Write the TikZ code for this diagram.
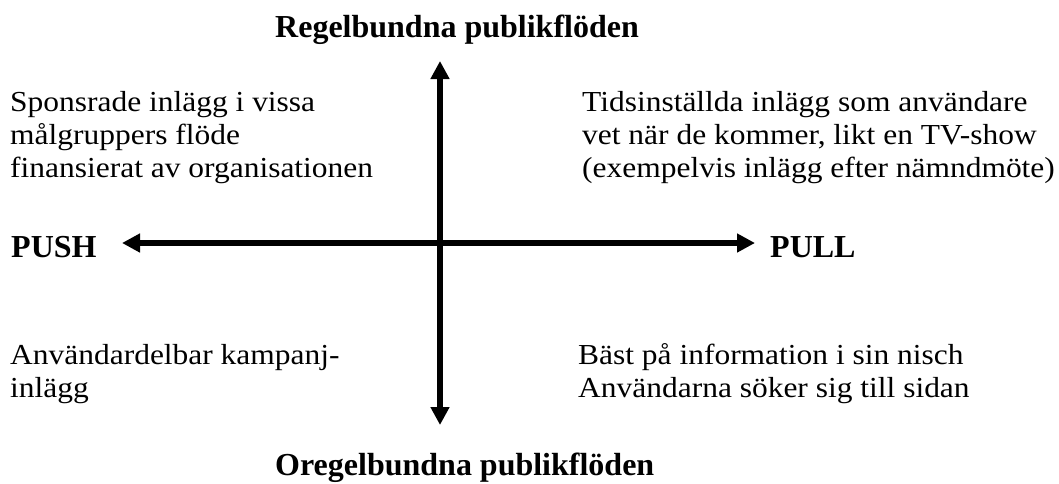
\documentclass[tikz,border=0pt]{standalone}
\usepackage{fontspec}
\setmainfont{Liberation Serif}
\newfontfamily\bodyfont[FakeStretch=1.085]{Liberation Serif}
\usetikzlibrary{arrows.meta}
\tikzset{
  body/.style={anchor=base west, inner sep=0pt, font=\bodyfont\fontsize{29}{33}\selectfont},
  head/.style={anchor=base west, inner sep=0pt, font=\fontsize{32}{36}\selectfont\bfseries},
  axis/.style={line width=5.5pt, {Triangle[length=18pt,width=18pt]}-{Triangle[length=18pt,width=18pt]}},
}
\begin{document}
\begin{tikzpicture}[x=1pt,y=-1pt]
\useasboundingbox (0,0) rectangle (1059,483);
% axes
\coordinate (top) at (440,61);
\coordinate (bottom) at (440,425);
\coordinate (left) at (122,243);
\coordinate (right) at (755,243);
\draw[axis] (top) -- (bottom);
\draw[axis] (left) -- (right);
% headings
\node[head] (reg) at (275,37) {Regelbundna publikflöden};
\node[head] (oreg) at (275,475) {Oregelbundna publikflöden};
\node[head] (push) at (11,257) {PUSH};
\node[head] (pull) at (770,257) {PULL};
% top left
\node[body] (tl1) at (10,111) {Sponsrade inlägg i vissa};
\node[body] (tl2) at (10,144) {målgruppers flöde};
\node[body] (tl3) at (10,177) {finansierat av organisationen};
% top right
\node[body] (tr1) at (582,111) {Tidsinställda inlägg som användare};
\node[body] (tr2) at (582,144) {vet när de kommer, likt en TV-show};
\node[body] (tr3) at (582,177) {(exempelvis inlägg efter nämndmöte)};
% bottom left
\node[body] (bl1) at (10,364) {Användardelbar kampanj-};
\node[body] (bl2) at (10,397) {inlägg};
% bottom right
\node[body] (br1) at (578,364) {Bäst på information i sin nisch};
\node[body] (br2) at (578,397) {Användarna söker sig till sidan};
\end{tikzpicture}
\end{document}
